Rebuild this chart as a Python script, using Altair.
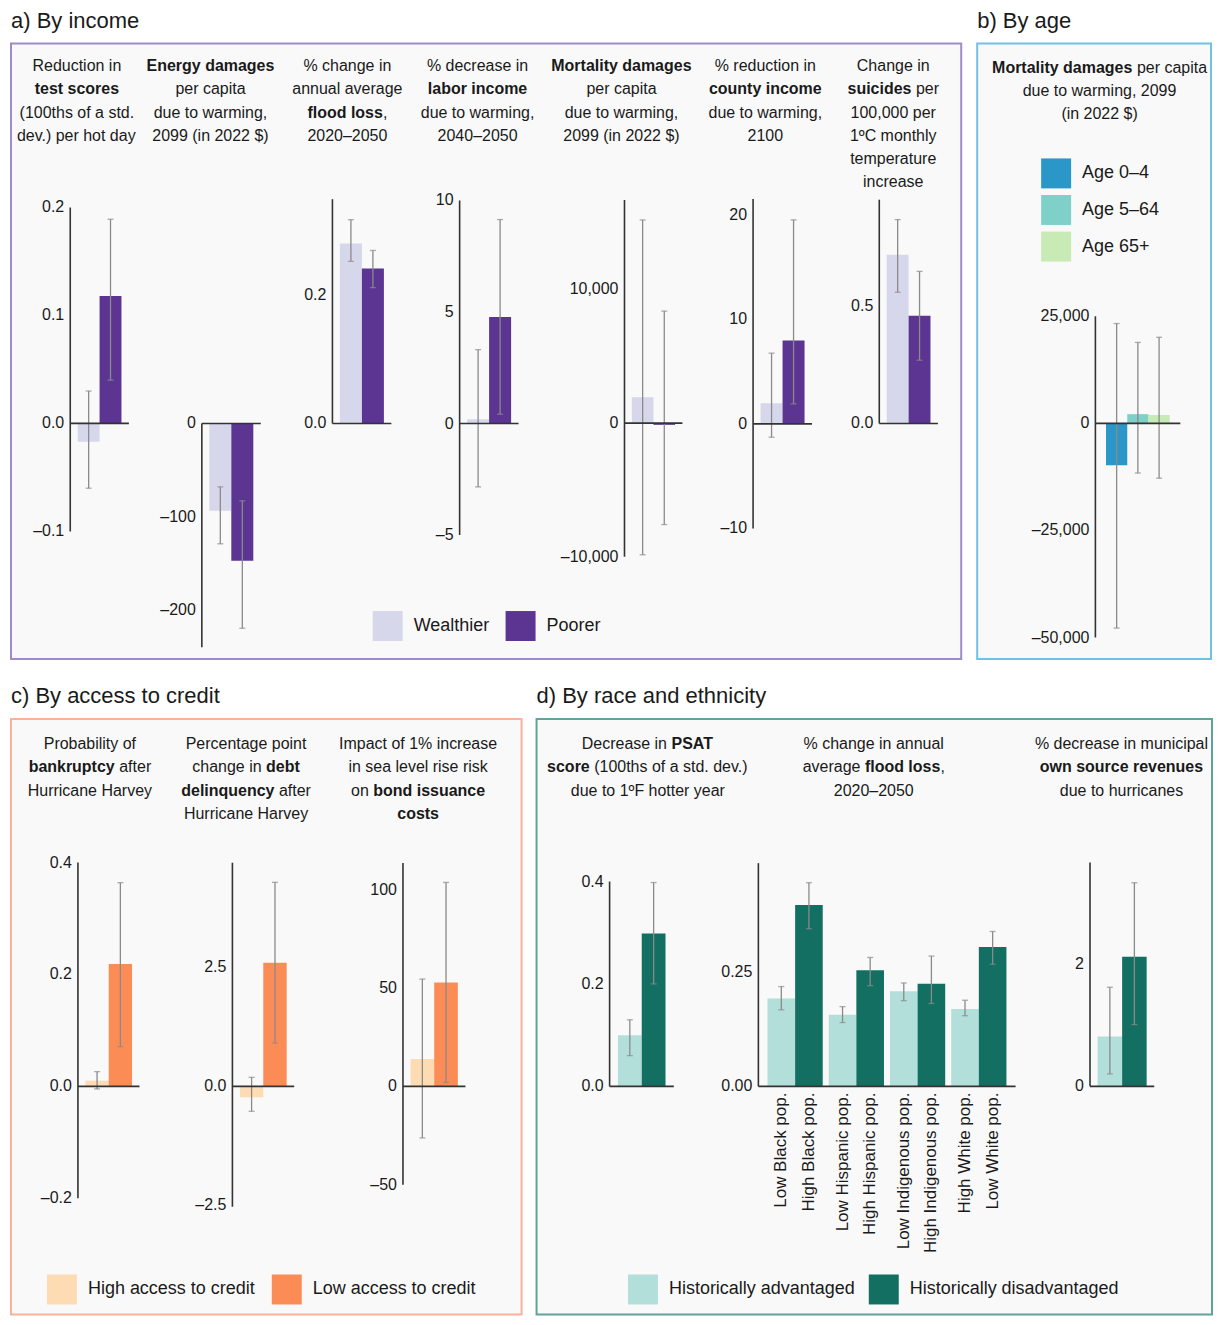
import altair as alt
import pandas as pd

FONT = "Liberation Sans, Arial, Helvetica, sans-serif"
TXT = "#1a1a1a"
ERR = "#8a8a8a"
AXC = "#333333"
BG = "#f9f9f9"

# ---------------- data ----------------
income_groups = ["Wealthier", "Poorer"]
income_colors = ["#d6d7eb", "#5c3592"]

test_scores = [-0.017, 0.118]
test_scores_lo = [-0.060, 0.040]
test_scores_hi = [0.030, 0.189]
energy_damages = [-93.6, -147.2]
energy_damages_lo = [-129.0, -219.6]
energy_damages_hi = [-67.9, -82.9]
flood_loss_income = [0.281, 0.242]
flood_loss_income_lo = [0.253, 0.212]
flood_loss_income_hi = [0.318, 0.270]
labor_income = [0.19, 4.77]
labor_income_lo = [-2.84, 0.42]
labor_income_hi = [3.31, 9.14]
mortality_income = [1940, -130]
mortality_income_lo = [-9850, -7590]
mortality_income_hi = [15200, 8380]
county_income = [1.97, 7.97]
county_income_lo = [-1.28, 1.91]
county_income_hi = [6.76, 19.5]
suicides = [0.720, 0.460]
suicides_lo = [0.560, 0.270]
suicides_hi = [0.870, 0.649]

age_groups = ["Age 0–4", "Age 5–64", "Age 65+"]
age_colors = ["#2b97c8", "#7fd0c8", "#c8eab5"]
mortality_age = [-9800, 2150, 1950]
mortality_age_lo = [-47800, -11600, -12800]
mortality_age_hi = [23300, 18900, 20100]

credit_groups = ["High access to credit", "Low access to credit"]
credit_colors = ["#fddcb4", "#fc8c56"]
bankruptcy = [0.0102, 0.2186]
bankruptcy_lo = [-0.0046, 0.0709]
bankruptcy_hi = [0.0263, 0.364]
delinquency = [-0.231, 2.60]
delinquency_lo = [-0.525, 0.91]
delinquency_hi = [0.189, 4.29]
bond_costs = [13.9, 52.8]
bond_costs_lo = [-26.2, 2.0]
bond_costs_hi = [54.5, 103.6]

race_groups = ["Historically advantaged", "Historically disadvantaged"]
race_colors = ["#b3dfda", "#136f62"]
psat = [0.100, 0.2985]
psat_lo = [0.060, 0.200]
psat_hi = [0.130, 0.398]
flood_pairs = ["Black", "Hispanic", "Indigenous", "White"]
flood_labels_adv = ["Low Black pop.", "Low Hispanic pop.", "Low Indigenous pop.", "High White pop."]
flood_labels_dis = ["High Black pop.", "High Hispanic pop.", "High Indigenous pop.", "Low White pop."]
flood_race_adv = [0.193, 0.157, 0.209, 0.170]
flood_race_adv_lo = [0.168, 0.140, 0.188, 0.155]
flood_race_adv_hi = [0.219, 0.175, 0.227, 0.189]
flood_race_dis = [0.398, 0.255, 0.225, 0.306]
flood_race_dis_lo = [0.346, 0.221, 0.182, 0.268]
flood_race_dis_hi = [0.447, 0.283, 0.286, 0.340]
revenues = [0.817, 2.12]
revenues_lo = [0.203, 1.01]
revenues_hi = [1.62, 3.33]

# tick labels
ticks_test = [-0.1, 0.0, 0.1, 0.2]
ticks_energy = [-200, -100, 0]
ticks_flood_income = [0.0, 0.2]
ticks_labor = [-5, 0, 5, 10]
ticks_mort_income = [-10000, 0, 10000]
ticks_county = [-10, 0, 10, 20]
ticks_suicides = [0.0, 0.5]
ticks_mort_age = [-50000, -25000, 0, 25000]
ticks_bankruptcy = [-0.2, 0.0, 0.2, 0.4]
ticks_delinquency = [-2.5, 0.0, 2.5]
ticks_bond = [-50, 0, 50, 100]
ticks_psat = [0.0, 0.2, 0.4]
ticks_flood_race = [0.0, 0.25]
ticks_revenues = [0, 2]

# header texts (** marks bold)
hdr_a = [
    ["Reduction in", "**test scores**", "(100ths of a std.", "dev.) per hot day"],
    ["**Energy damages**", "per capita", "due to warming,", "2099 (in 2022 $)"],
    ["% change in", "annual average", "**flood loss**,", "2020–2050"],
    ["% decrease in", "**labor income**", "due to warming,", "2040–2050"],
    ["**Mortality damages**", "per capita", "due to warming,", "2099 (in 2022 $)"],
    ["% reduction in", "**county income**", "due to warming,", "2100"],
    ["Change in", "**suicides** per", "100,000 per", "1ºC monthly", "temperature", "increase"],
]
hdr_b = [["**Mortality damages** per capita", "due to warming, 2099", "(in 2022 $)"]]
hdr_c = [
    ["Probability of", "**bankruptcy** after", "Hurricane Harvey"],
    ["Percentage point", "change in **debt**", "**delinquency** after", "Hurricane Harvey"],
    ["Impact of 1% increase", "in sea level rise risk", "on **bond issuance**", "**costs**"],
]
hdr_d = [
    ["Decrease in **PSAT**", "**score** (100ths of a std. dev.)", "due to 1ºF hotter year"],
    ["% change in annual", "average **flood loss**,", "2020–2050"],
    ["% decrease in municipal", "**own source revenues**", "due to hurricanes"],
]

# ---------------- text metrics (Liberation Sans = Arial metrics) ----------------
_REG = {" ": 278, "%": 889, "(": 333, ")": 333, ",": 278, ".": 278, "$": 556, "–": 556, "º": 365, "-": 333}
_BOLD = {" ": 278, "%": 889, "(": 333, ")": 333, ",": 278, ".": 278, "$": 556, "–": 556}
for _c in "0123456789":
    _REG[_c] = 556
    _BOLD[_c] = 556
for _c, _w in zip("ABCDEFGHIJKLMNOPQRSTUVWXYZ",
                  [667, 667, 722, 722, 667, 611, 778, 722, 278, 500, 667, 556, 833, 722, 778, 667, 778, 722, 667, 611, 722, 667, 944, 667, 667, 611]):
    _REG[_c] = _w
for _c, _w in zip("abcdefghijklmnopqrstuvwxyz",
                  [556, 556, 500, 556, 556, 278, 556, 556, 222, 222, 500, 222, 833, 556, 556, 556, 556, 333, 500, 278, 556, 500, 722, 500, 500, 500]):
    _REG[_c] = _w
for _c, _w in zip("ABCDEFGHIJKLMNOPQRSTUVWXYZ",
                  [722, 722, 722, 722, 667, 611, 778, 722, 278, 556, 722, 611, 833, 722, 778, 667, 778, 722, 667, 611, 722, 667, 944, 667, 667, 611]):
    _BOLD[_c] = _w
for _c, _w in zip("abcdefghijklmnopqrstuvwxyz",
                  [556, 611, 556, 611, 556, 333, 611, 611, 278, 278, 556, 278, 889, 611, 611, 611, 611, 389, 556, 333, 611, 556, 778, 556, 556, 500]):
    _BOLD[_c] = _w

HDR_SIZE = 16


def text_w(s, bold):
    t = _BOLD if bold else _REG
    return sum(t.get(ch, 556) for ch in s) / 1000.0 * HDR_SIZE


def header_layers(blocks, centers, y0, dy):
    rows = []
    for lines, cx in zip(blocks, centers):
        for i, line in enumerate(lines):
            parts = line.split("**")
            segs = [(p, j % 2 == 1) for j, p in enumerate(parts) if p]
            total = sum(text_w(p, b) for p, b in segs)
            x = cx - total / 2.0
            for p, b in segs:
                lead = len(p) - len(p.lstrip(" "))
                s = p.strip(" ")
                if s:
                    rows.append({"x": x + text_w(" " * lead, b), "y": y0 + i * dy, "t": s, "bold": b})
                x += text_w(p, b)
    df = pd.DataFrame(rows)
    out = []
    for b in (False, True):
        sub_df = df[df["bold"] == b]
        if len(sub_df):
            out.append(
                alt.Chart(sub_df).mark_text(align="left", baseline="middle", font=FONT, fontSize=HDR_SIZE,
                                            fontWeight="bold" if b else "normal", color=TXT)
                .encode(x=alt.X("x:Q", scale=None, axis=None),
                        y=alt.Y("y:Q", scale=None, axis=None),
                        text="t:N")
            )
    return out


def fmt_num(v, fmt):
    if fmt == ".1f":
        s = f"{v:.1f}"
    elif fmt == ".2f":
        s = f"{v:.2f}"
    elif fmt == ",d":
        s = f"{int(round(v)):,}"
    else:
        s = str(int(round(v)))
    if s.startswith("-"):
        s = "–" + s[1:]
    return s


def axis_marks(xr, yd, ticks, fmt):
    zdf = pd.DataFrame({"z": [0.0]})
    ldf = pd.DataFrame({"a": [float(yd[0])], "b": [float(yd[1])]})
    tdf = pd.DataFrame({"t": [float(t) for t in ticks], "lab": [fmt_num(t, fmt) for t in ticks]})
    zero_line = alt.Chart(zdf).mark_rule(color=AXC, strokeWidth=1.6).encode(
        y=alt.Y("z:Q", axis=None), x=alt.value(xr[0]), x2=alt.value(xr[1]))
    y_line = alt.Chart(ldf).mark_rule(color=AXC, strokeWidth=1.6).encode(
        x=alt.value(xr[0]), y=alt.Y("a:Q", axis=None), y2="b:Q")
    labels = alt.Chart(tdf).mark_text(align="right", baseline="middle", dx=-6, font=FONT,
                                      fontSize=16, color=TXT).encode(
        x=alt.value(xr[0]), y=alt.Y("t:Q", axis=None), text="lab:N")
    return [zero_line, y_line, labels]


def legend(x, y, direction="horizontal", col_pad=16, row_pad=6.6):
    return alt.Legend(title=None, orient="none", legendX=x, legendY=y, direction=direction,
                      symbolType="square", symbolSize=900, symbolStrokeWidth=0, labelFont=FONT,
                      labelFontSize=18, labelColor=TXT, labelOffset=11, columnPadding=col_pad,
                      rowPadding=row_pad, padding=0, labelLimit=0)


def sub(groups, vals, los, his, cscale, leg, xr, yd, yr, yticks, yfmt, po):
    df = pd.DataFrame({"g": groups, "v": vals, "lo": los, "hi": his, "z": [0.0] * len(groups)})
    xs = alt.Scale(domain=groups, range=xr, paddingInner=0, paddingOuter=po)
    ys = alt.Scale(domain=yd, range=yr, nice=False, zero=False)
    base = alt.Chart(df)
    xp = alt.X("g:N", sort=groups, axis=None)
    bars = base.mark_bar().encode(
        x=alt.X("g:N", scale=xs, sort=groups, axis=None),
        y=alt.Y("v:Q", scale=ys, axis=None, stack=None),
        y2="z:Q",
        color=alt.Color("g:N", scale=cscale, legend=leg),
    )
    err = base.mark_rule(color=ERR, strokeWidth=1.3).encode(x=xp, y=alt.Y("lo:Q", axis=None), y2="hi:Q")
    cap1 = base.mark_tick(orient="horizontal", size=6, thickness=1.3, color=ERR).encode(x=xp, y=alt.Y("lo:Q", axis=None))
    cap2 = base.mark_tick(orient="horizontal", size=6, thickness=1.3, color=ERR).encode(x=xp, y=alt.Y("hi:Q", axis=None))
    return alt.layer(bars, err, cap1, cap2, *axis_marks(xr, yd, yticks, yfmt))


def title(t):
    return alt.Title(t, anchor="start", fontSize=22, fontWeight="normal", font=FONT, color=TXT, offset=11)


# ---------------- panel a ----------------
HA = 616
cs_a = alt.Scale(domain=income_groups, range=income_colors)
leg_a = legend(362, 568, col_pad=16)
subs_a = [
    sub(income_groups, test_scores, test_scores_lo, test_scores_hi, cs_a, leg_a,
        [59.3, 118], [-0.1, 0.2], [488.3, 164], ticks_test, ".1f", 0.34),
    sub(income_groups, energy_damages, energy_damages_lo, energy_damages_hi, cs_a, leg_a,
        [191, 250], [-240, 0], [604.3, 380.3], ticks_energy, "d", 0.34),
    sub(income_groups, flood_loss_income, flood_loss_income_lo, flood_loss_income_hi, cs_a, leg_a,
        [321.7, 380.7], [0, 0.35], [380.3, 155.8], ticks_flood_income, ".1f", 0.34),
    sub(income_groups, labor_income, labor_income_lo, labor_income_hi, cs_a, leg_a,
        [449, 508], [-5, 10], [492, 157], ticks_labor, "d", 0.34),
    sub(income_groups, mortality_income, mortality_income_lo, mortality_income_hi, cs_a, leg_a,
        [614, 672], [-10000, 16700], [513.7, 156.5], ticks_mort_income, ",d", 0.34),
    sub(income_groups, county_income, county_income_lo, county_income_hi, cs_a, leg_a,
        [742.7, 801.7], [-10, 21.5], [485.3, 155.6], ticks_county, "d", 0.34),
    sub(income_groups, suicides, suicides_lo, suicides_hi, cs_a, leg_a,
        [869, 927.7], [0, 0.955], [380.3, 156.3], ticks_suicides, ".1f", 0.34),
]
panel_a = alt.layer(
    *subs_a, *header_layers(hdr_a, [66, 199.7, 336.7, 467, 611, 755, 883], 22.7, 23.2)
).resolve_scale(x="independent", y="independent").properties(
    width=951, height=HA, title=title("a) By income"),
    view=alt.ViewBackground(fill=BG, stroke="#a08bc9", strokeWidth=2),
)

# ---------------- panel b ----------------
cs_b = alt.Scale(domain=age_groups, range=age_colors)
leg_b = legend(64, 115, direction="vertical", row_pad=6.6)
sub_b = sub(age_groups, mortality_age, mortality_age_lo, mortality_age_hi, cs_b, leg_b,
            [118.3, 203.3], [-50000, 25000], [594.5, 273], ticks_mort_age, ",d", 0.5)
panel_b = alt.layer(
    sub_b, *header_layers(hdr_b, [122.5], 24.3, 23.2)
).resolve_scale(x="independent", y="independent").properties(
    width=234, height=HA, title=title("b) By age"),
    view=alt.ViewBackground(fill=BG, stroke="#72c0e6", strokeWidth=2),
)

# ---------------- panel c ----------------
HC = 596
cs_c = alt.Scale(domain=credit_groups, range=credit_colors)
leg_c = legend(36, 556, col_pad=16)
subs_c = [
    sub(credit_groups, bankruptcy, bankruptcy_lo, bankruptcy_hi, cs_c, leg_c,
        [67, 128.6], [-0.2, 0.4], [479.7, 143.7], ticks_bankruptcy, ".1f", 0.32),
    sub(credit_groups, delinquency, delinquency_lo, delinquency_hi, cs_c, leg_c,
        [221.6, 283.4], [-2.53, 4.7], [488.1, 144], ticks_delinquency, ".1f", 0.32),
    sub(credit_groups, bond_costs, bond_costs_lo, bond_costs_hi, cs_c, leg_c,
        [392.3, 454.8], [-50, 113.5], [466.2, 144.1], ticks_bond, "d", 0.32),
]
panel_c = alt.layer(
    *subs_c, *header_layers(hdr_c, [79, 235.3, 407.5], 24.7, 23.5)
).resolve_scale(x="independent", y="independent").properties(
    width=511, height=HC, title=title("c) By access to credit"),
    view=alt.ViewBackground(fill=BG, stroke="#fbb197", strokeWidth=2),
)

# ---------------- panel d ----------------
cs_d = alt.Scale(domain=race_groups, range=race_colors)
leg_d = legend(91.5, 556, col_pad=13)

d1 = sub(race_groups, psat, psat_lo, psat_hi, cs_d, leg_d,
         [73.1, 137.4], [0, 0.4], [367.7, 162.7], ticks_psat, ".1f", 0.35)
d3 = sub(race_groups, revenues, revenues_lo, revenues_hi, cs_d, leg_d,
         [553.9, 618.2], [0, 3.66], [367.7, 143.7], ticks_revenues, "d", 0.31)

fr = pd.DataFrame({
    "pair": flood_pairs + flood_pairs,
    "g": [race_groups[0]] * 4 + [race_groups[1]] * 4,
    "v": flood_race_adv + flood_race_dis,
    "lo": flood_race_adv_lo + flood_race_dis_lo,
    "hi": flood_race_adv_hi + flood_race_dis_hi,
    "label": flood_labels_adv + flood_labels_dis,
    "z": [0.0] * 8,
})
fr_base = alt.Chart(fr)
FR_XR = [222, 479.4]
FR_YD = [0, 0.49]
fr_xs = alt.Scale(domain=flood_pairs, range=FR_XR, paddingInner=0.098, paddingOuter=0.149)
fr_ys = alt.Scale(domain=FR_YD, range=[367.7, 144.3], nice=False, zero=False)
fr_xp = alt.X("pair:N", sort=flood_pairs, axis=None)
fr_off = alt.XOffset("g:N", sort=race_groups)
fr_bars = fr_base.mark_bar().encode(
    x=alt.X("pair:N", scale=fr_xs, sort=flood_pairs, axis=None),
    xOffset=alt.XOffset("g:N", sort=race_groups,
                        scale=alt.Scale(domain=race_groups, paddingInner=0, paddingOuter=0)),
    y=alt.Y("v:Q", scale=fr_ys, axis=None, stack=None),
    y2="z:Q",
    color=alt.Color("g:N", scale=cs_d, legend=leg_d),
)
fr_err = fr_base.mark_rule(color=ERR, strokeWidth=1.3).encode(
    x=fr_xp, xOffset=fr_off, y=alt.Y("lo:Q", axis=None), y2="hi:Q")
fr_cap1 = fr_base.mark_tick(orient="horizontal", size=6, thickness=1.3, color=ERR).encode(
    x=fr_xp, xOffset=fr_off, y=alt.Y("lo:Q", axis=None))
fr_cap2 = fr_base.mark_tick(orient="horizontal", size=6, thickness=1.3, color=ERR).encode(
    x=fr_xp, xOffset=fr_off, y=alt.Y("hi:Q", axis=None))
fr_labels = fr_base.mark_text(angle=270, align="right", baseline="middle", font=FONT,
                              fontSize=17, color=TXT).encode(
    x=fr_xp, xOffset=fr_off, y=alt.value(374), text="label:N")
d2 = alt.layer(fr_bars, fr_err, fr_cap1, fr_cap2, fr_labels,
               *axis_marks(FR_XR, FR_YD, ticks_flood_race, ".2f"))

panel_d = alt.layer(
    d1, d2, d3, *header_layers(hdr_d, [111.5, 337.5, 585.5], 24.7, 23.5)
).resolve_scale(x="independent", y="independent").properties(
    width=676, height=HC, title=title("d) By race and ethnicity"),
    view=alt.ViewBackground(fill=BG, stroke="#5fa39b", strokeWidth=2),
)

row1 = alt.hconcat(panel_a, panel_b, spacing=14).resolve_scale(color="independent")
row2 = alt.hconcat(panel_c, panel_d, spacing=13).resolve_scale(color="independent")

chart = alt.vconcat(row1, row2, spacing=24).resolve_scale(color="independent").properties(
    padding={"left": 2, "top": 0, "right": 0, "bottom": 0},
    background="white",
).configure(font=FONT)

chart.save("out.html", embed_options={"renderer": "svg", "actions": False})
